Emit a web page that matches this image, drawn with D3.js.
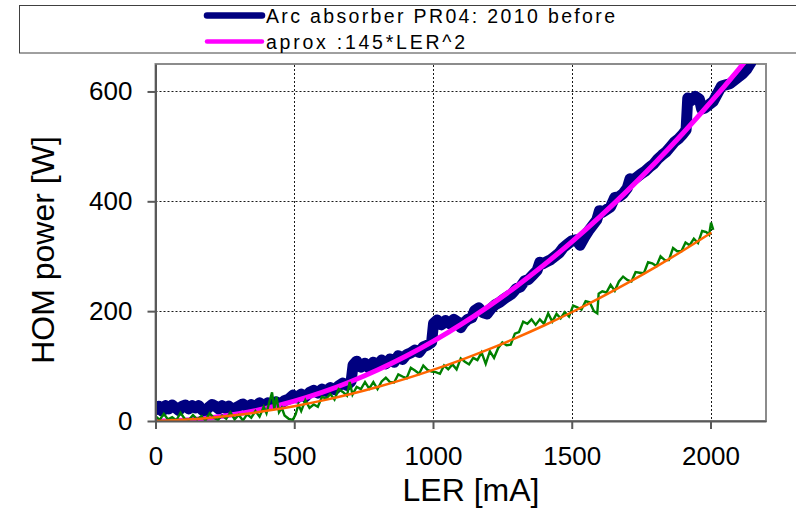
<!DOCTYPE html>
<html>
<head>
<meta charset="utf-8">
<script src="https://cdn.jsdelivr.net/npm/d3@7"></script>
<style>
  html, body { margin: 0; padding: 0; background: #fff; }
  svg { display: block; font-family: "Liberation Sans", Arial, sans-serif; }
</style>
</head>
<body>
<svg id="chart" width="796" height="510"></svg>
<script>
// Axis ticks and labels
const xTicks = [0, 500, 1000, 1500, 2000];
const yTicks = [0, 200, 400, 600];
const xTitle = "LER [mA]";
const yTitle = "HOM power [W]";
const legendNames = ["Arc absorber PR04: 2010 before", "aprox :145*LER^2"];

// Arc absorber PR04, 2010 before: [LER mA, HOM power W]
const beforeData = [
  [0,20],[12,27],[24,18],[36,28],[48,22],[60,29],[72,24],[84,19],[96,27],[108,29],[120,22],[132,28],
  [144,24],[156,28],[168,20],[180,18],[192,25],[204,30],[216,27],[228,22],[240,28],[252,23],[264,27],
  [276,20],[288,24],[300,27],[315,31],[330,25],[345,30],[360,26],[375,33],[390,28],[405,33],[420,29],
  [435,35],[450,31],[465,37],[480,40],[495,47],[510,42],[525,49],[540,44],[555,52],[570,56],[585,51],
  [600,58],[615,54],[630,61],[645,57],[660,64],[675,69],[690,65],[705,72],[712,102],[725,109],
  [740,98],[755,105],[770,96],[785,107],[800,101],[815,111],[830,104],[845,113],[860,107],[875,119],
  [890,112],[905,121],[920,124],[935,129],[950,125],[965,135],[980,138],[995,143],[1002,178],[1015,184],
  [1030,175],[1045,183],[1060,177],[1075,185],[1090,180],[1100,170],[1110,178],[1125,185],[1140,188],[1150,201],
  [1165,206],[1180,197],[1195,195],[1210,205],[1225,212],[1240,216],[1255,222],[1270,227],[1285,232],[1300,241],
  [1315,244],[1330,255],[1345,258],[1360,266],[1375,274],[1385,289],[1395,286],[1410,290],[1425,294],[1440,300],
  [1455,306],[1470,316],[1485,322],[1500,328],[1515,330],[1530,320],[1545,334],[1560,346],[1575,356],[1590,366],
  [1600,383],[1610,380],[1625,385],[1640,390],[1655,407],[1670,408],[1685,414],[1700,424],[1710,441],[1720,438],
  [1735,444],[1750,450],[1765,455],[1780,462],[1795,468],[1810,477],[1825,484],[1840,490],[1855,499],[1870,508],
  [1885,514],[1900,522],[1912,530],[1918,588],[1930,583],[1945,591],[1960,586],[1968,568],[1980,570],[1995,576],
  [2010,582],[2025,596],[2040,610],[2055,612],[2070,614],[2085,620],[2100,626],[2115,632],[2130,640],[2145,652]
];

// Quadratic approximation 145*LER^2 (LER in A)
const approxLER = [0,100,200,300,400,500,600,700,800,900,1000,1100,1200,1300,1400,1500,1600,1700,1800,1900,2000,2100,2200];
const approxPower = [0,1.45,5.8,13.05,23.2,36.25,52.2,71.05,92.8,117.45,145,175.45,208.8,245.05,284.2,326.25,371.2,419.05,469.8,523.45,580,639.45,701.8];

// Second measurement run: [LER mA, HOM power W]
const afterData = [
  [0,9],[15,2],[30,13],[45,3],[60,7],[75,1],[90,15],[105,4],[120,2],[135,11],
  [150,3],[165,9],[180,1],[195,14],[210,6],[225,2],[240,10],[255,4],[270,16],[285,3],
  [300,11],[315,1],[330,12],[345,6],[360,18],[375,8],[390,26],[400,14],[410,34],[420,52],
  [428,22],[436,44],[445,16],[455,24],[465,10],[480,4],[495,2],[505,12],[515,30],[525,18],
  [540,38],[555,24],[570,30],[585,26],[600,44],[615,41],[630,49],[645,39],[660,58],[675,53],
  [690,46],[700,71],[710,48],[725,62],[740,58],[755,71],[770,59],[785,71],[800,58],[815,72],
  [830,79],[845,71],[860,70],[875,85],[890,81],[905,78],[920,97],[935,92],[950,86],[965,101],
  [980,93],[995,90],[1010,89],[1025,86],[1040,101],[1055,94],[1070,103],[1085,94],[1100,114],[1115,108],
  [1130,103],[1145,115],[1160,111],[1175,125],[1190,104],[1205,127],[1220,115],[1235,133],[1250,143],[1265,138],
  [1280,139],[1295,159],[1310,162],[1325,181],[1340,177],[1355,185],[1370,175],[1385,185],[1400,177],[1415,196],
  [1430,181],[1445,195],[1460,187],[1475,198],[1490,190],[1505,210],[1520,207],[1535,203],[1550,218],[1565,216],
  [1580,200],[1592,196],[1597,232],[1610,236],[1625,234],[1640,248],[1655,237],[1670,254],[1685,263],[1700,257],
  [1715,254],[1730,271],[1745,270],[1760,269],[1775,289],[1790,287],[1805,282],[1820,300],[1835,293],[1850,293],
  [1865,315],[1880,309],[1895,309],[1910,325],[1925,320],[1940,332],[1955,324],[1970,346],[1985,344],[1995,339],
  [2002,361],[2010,348]
];

// Smooth fit of the second run
const afterFitLER = [0,100,200,300,400,500,600,700,800,900,1000,1100,1200,1300,1400,1500,1600,1700,1800,1900,2000];
const afterFitPower = [0,2.28,6.12,11.52,18.48,27,37.08,48.72,61.92,76.68,93,110.88,130.32,151.32,173.88,198,223.68,250.92,279.72,310.08,342];

// ---- drawing ----
const svg = d3.select("#chart");
const plot = { left: 155.5, right: 766, top: 64, bottom: 421 };

const x = d3.scaleLinear().domain([0, 2200]).range([plot.left, plot.right]);
const y = d3.scaleLinear().domain([0, 650]).range([plot.bottom, plot.top]);

// legend frame
svg.append("rect")
  .attr("x", 19.5).attr("y", 5.5).attr("width", 800).attr("height", 47.5)
  .attr("fill", "#fff").attr("stroke", "#404040").attr("stroke-width", 1);

// plot area frame
svg.append("rect")
  .attr("x", plot.left).attr("y", plot.top)
  .attr("width", plot.right - plot.left).attr("height", plot.bottom - plot.top)
  .attr("fill", "#fff").attr("stroke", "#8c8c8c").attr("stroke-width", 2);

// dotted gridlines
const grid = svg.append("g").attr("stroke", "#1a1a1a").attr("stroke-width", 1)
  .attr("stroke-dasharray", "2,2");
grid.selectAll("line.v").data(xTicks.filter(d => d > 0)).join("line")
  .attr("x1", d => Math.round(x(d)) + 0.5).attr("x2", d => Math.round(x(d)) + 0.5)
  .attr("y1", plot.top + 1).attr("y2", plot.bottom);
grid.selectAll("line.h").data(yTicks.filter(d => d > 0)).join("line")
  .attr("x1", plot.left).attr("x2", plot.right - 1)
  .attr("y1", d => Math.round(y(d)) + 0.5).attr("y2", d => Math.round(y(d)) + 0.5);

// data layer, clipped to the plot area
svg.append("clipPath").attr("id", "plotClip").append("rect")
  .attr("x", plot.left).attr("y", plot.top)
  .attr("width", plot.right - plot.left).attr("height", plot.bottom - plot.top);
const data = svg.append("g").attr("clip-path", "url(#plotClip)");

const line = d3.line().x(d => x(d[0])).y(d => y(d[1]));
const smooth = d3.line().x(d => x(d[0])).y(d => y(d[1])).curve(d3.curveMonotoneX);

data.append("path").datum(beforeData).attr("d", line)
  .attr("fill", "none").attr("stroke", "#000080").attr("stroke-width", 11)
  .attr("stroke-linejoin", "round").attr("stroke-linecap", "round");

data.append("path").datum(approxLER.map((l, i) => [l, approxPower[i]])).attr("d", smooth)
  .attr("fill", "none").attr("stroke", "#ff00ff").attr("stroke-width", 5)
  .attr("stroke-linecap", "round");

data.append("path").datum(afterData).attr("d", line)
  .attr("fill", "none").attr("stroke", "#008000").attr("stroke-width", 2.4)
  .attr("stroke-linejoin", "miter");

data.append("path").datum(afterFitLER.map((l, i) => [l, afterFitPower[i]])).attr("d", smooth)
  .attr("fill", "none").attr("stroke", "#ff6600").attr("stroke-width", 2.5)
  .attr("stroke-linecap", "round");

// axes
const xAxis = d3.axisBottom(x).tickValues(xTicks).tickFormat(d3.format("d"))
  .tickSize(8).tickSizeOuter(0).tickPadding(18);
const yAxis = d3.axisLeft(y).tickValues(yTicks).tickFormat(d3.format("d"))
  .tickSize(8).tickSizeOuter(0).tickPadding(15);

const gx = svg.append("g").attr("transform", `translate(0,${plot.bottom})`).call(xAxis);
const gy = svg.append("g").attr("transform", `translate(${plot.left},0)`).call(yAxis);
[gx, gy].forEach(g => {
  g.select(".domain").attr("stroke", "#595959").attr("stroke-width", 2);
  g.selectAll(".tick line").attr("stroke", "#595959").attr("stroke-width", 2);
  g.selectAll(".tick text").attr("fill", "#000").attr("font-size", 26)
    .attr("font-family", "'Liberation Sans', Arial, sans-serif");
});

// axis titles
svg.append("text").attr("x", 471).attr("y", 501).attr("text-anchor", "middle")
  .attr("font-size", 32).attr("fill", "#000").text(xTitle);
svg.append("text").attr("transform", "translate(54,250) rotate(-90)").attr("text-anchor", "middle")
  .attr("font-size", 32).attr("fill", "#000").text(yTitle);

// legend entries
const legend = svg.append("g");
const legendStyle = [
  { color: "#000080", width: 6.5, y: 15.5, base: 22.5, len: 349 },
  { color: "#ff00ff", width: 4.5, y: 41.5, base: 48.5, len: 199 }
];
legendStyle.forEach((s, i) => {
  legend.append("line").attr("x1", 207).attr("x2", 262).attr("y1", s.y).attr("y2", s.y)
    .attr("stroke", s.color).attr("stroke-width", s.width).attr("stroke-linecap", "round");
  legend.append("text").attr("x", 266).attr("y", s.base).attr("font-size", 19.5)
    .attr("fill", "#000").attr("textLength", s.len).attr("lengthAdjust", "spacing")
    .text(legendNames[i]);
});
</script>
</body>
</html>
